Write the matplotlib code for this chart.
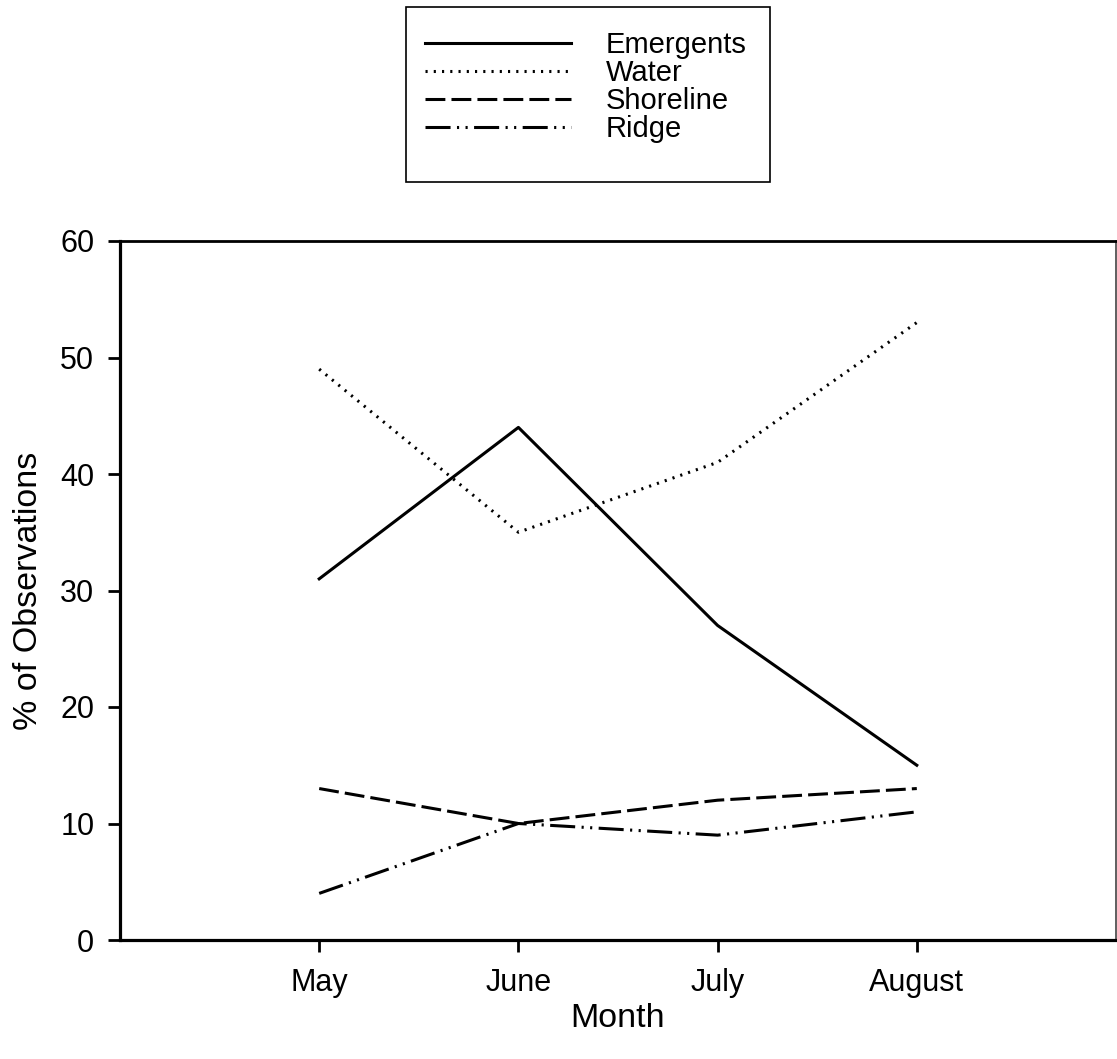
import matplotlib
matplotlib.use("Agg")
import matplotlib.pyplot as plt
from matplotlib.patches import Rectangle

months = ["May", "June", "July", "August"]
emergents = [31, 44, 27, 15]
water = [49, 35, 41, 53]
shoreline = [13, 10, 12, 13]
ridge = [4, 10, 9, 11]

plt.rcParams['font.family'] = ['Liberation Sans', 'DejaVu Sans']

W, H = 1117, 1059
fig = plt.figure(figsize=(W / 100, H / 100), dpi=100)
ax = fig.add_axes([120 / W, (H - 940) / H, (1116 - 120) / W, (940 - 241) / H])

x = list(range(1, len(months) + 1))
lw = 2.2
l1, = ax.plot(x, emergents, color='black', lw=lw, linestyle='-', label='Emergents')
l2, = ax.plot(x, water, color='black', lw=lw, linestyle=(0, (0.7, 2.0)), label='Water')
l3, = ax.plot(x, shoreline, color='black', lw=lw, linestyle=(0, (6.5, 2.0)), label='Shoreline')
l4, = ax.plot(x, ridge, color='black', lw=lw, linestyle=(0, (8.2, 2.1, 0.7, 2.1, 0.7, 2.1)), label='Ridge')

ax.set_xlim(0, 5)
ax.set_ylim(0, 60)
ax.set_xticks(x)
ax.set_xticklabels(months)
ax.set_yticks(range(0, 61, 10))
ax.tick_params(axis='both', direction='out', length=8.5, width=2, labelsize=22, pad=10)
ax.tick_params(axis='x', pad=11.5)
for s in ax.spines.values():
    s.set_linewidth(2.3)
ax.spines['top'].set_linewidth(2.0)
ax.spines['right'].set_linewidth(1.2)
ax.spines['right'].set_color('#444444')

ax.set_ylabel('% of Observations', fontsize=24.5, labelpad=12)
ax.set_xlabel('Month', fontsize=24.5, labelpad=4)

# legend frame
fig.patches.append(Rectangle((406 / W, (H - 182) / H), (770 - 406) / W, (182 - 7) / H,
                             transform=fig.transFigure, fill=False, edgecolor='black', lw=1.2))
fig.legend(handles=[l1, l2, l3, l4], loc='upper left',
           bbox_to_anchor=(425 / W, (H - 31) / H), frameon=False,
           fontsize=21, handlelength=5.0, handletextpad=1.2, labelspacing=0.0,
           borderpad=0, borderaxespad=0)

fig.savefig('out.png', dpi=100)
